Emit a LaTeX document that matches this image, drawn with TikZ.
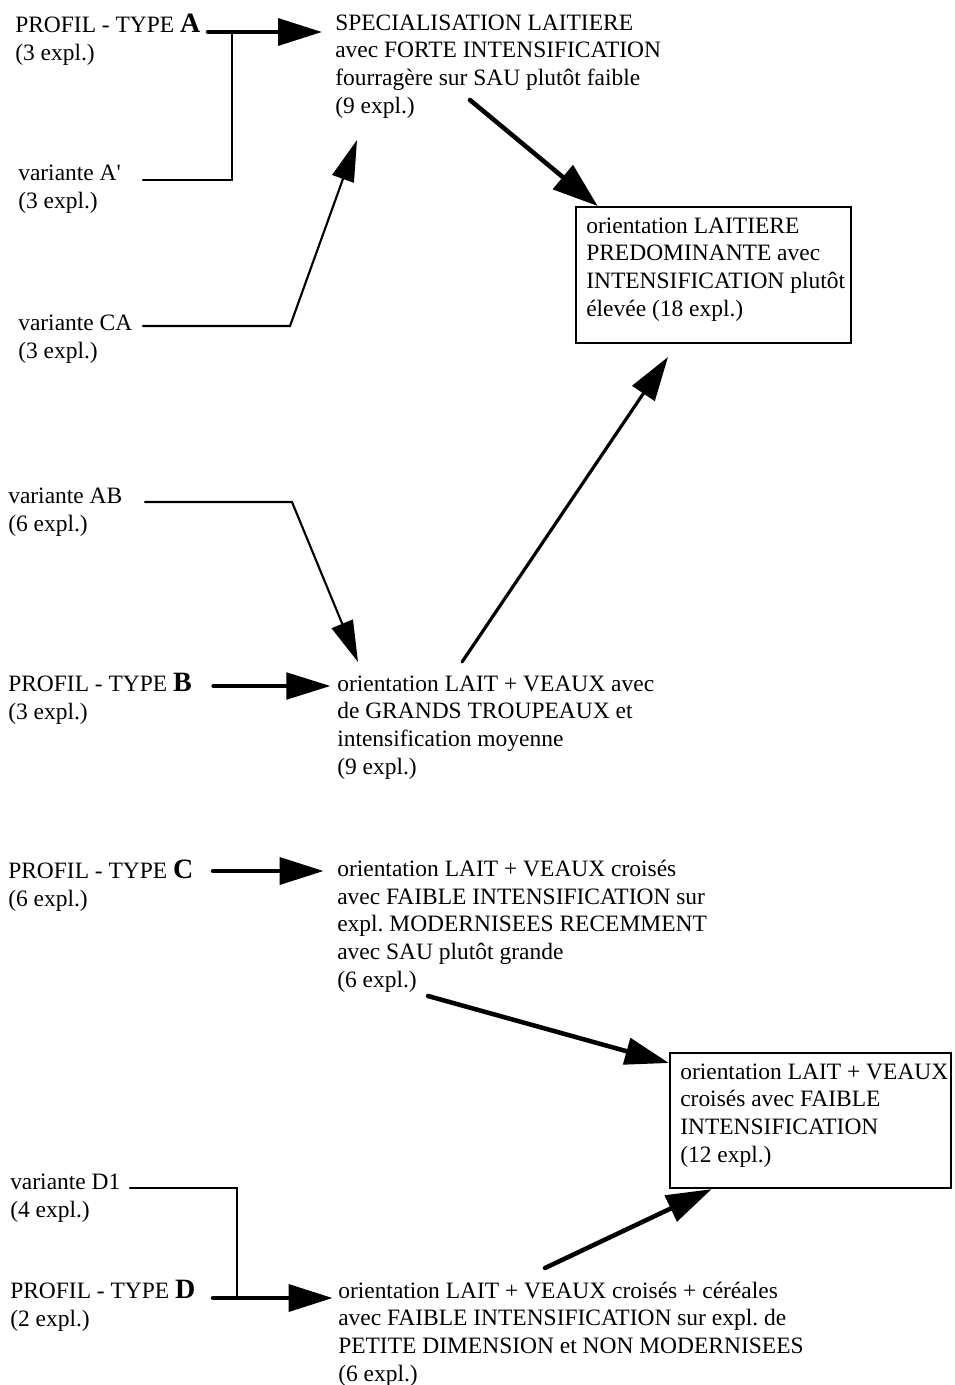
\documentclass[tikz,border=0pt]{standalone}
\usepackage{fontspec}
\setmainfont{Liberation Serif}
\usetikzlibrary{arrows.meta}
\newcommand{\profletter}[1]{{\fontsize{21}{20.7}\selectfont\bfseries #1}}
\frenchspacing

\begin{document}
\begin{tikzpicture}[x=0.75pt,y=-0.75pt,line cap=round,line join=miter,
	>={Triangle[length=33pt,width=20pt]},
	txt/.style={anchor=base west,inner sep=0pt,align=left,font=\fontsize{17.6}{20.7}\selectfont},
	resbox/.style={draw,line width=1.6pt,inner sep=0pt,anchor=north west},
	thinline/.style={line width=1.6pt},
	midline/.style={line width=2.4pt},
	thickline/.style={line width=3.4pt},
	smallhead/.style={>={Triangle[length=31pt,width=17pt]}}]
	\useasboundingbox (0,0) rectangle (954,1385);

	% nodes are placed at the baseline of their last line
	\node [txt] (proA) at (15,60) {PROFIL - TYPE \profletter{A}\\(3 expl.)};
	\node [txt] (varA) at (18,208) {variante A\textquotesingle\\(3 expl.)};
	\node [txt] (varCA) at (18,358) {variante CA\\(3 expl.)};
	\node [txt] (varAB) at (8,531) {variante AB\\(6 expl.)};
	\node [txt] (proB) at (8,719) {PROFIL - TYPE \profletter{B}\\(3 expl.)};
	\node [txt] (proC) at (8,906) {PROFIL - TYPE \profletter{C}\\(6 expl.)};
	\node [txt] (varD) at (10,1217) {variante D1\\(4 expl.)};
	\node [txt] (proD) at (10,1326) {PROFIL - TYPE \profletter{D}\\(2 expl.)};

	\node [txt] (spec) at (335,113) {SPECIALISATION LAITIERE\\avec FORTE INTENSIFICATION\\fourragère sur SAU plutôt faible\\(9 expl.)};
	\node [txt] (lvB) at (337,774) {orientation LAIT + VEAUX avec\\de GRANDS TROUPEAUX et\\intensification moyenne\\(9 expl.)};
	\node [txt] (lvC) at (337,987) {orientation LAIT + VEAUX croisés\\avec FAIBLE INTENSIFICATION sur\\expl. MODERNISEES RECEMMENT\\avec SAU plutôt grande\\(6 expl.)};
	\node [txt] (lvD) at (338,1381) {orientation LAIT + VEAUX croisés + céréales\\avec FAIBLE INTENSIFICATION sur expl. de\\PETITE DIMENSION et NON MODERNISEES\\(6 expl.)};

	\node [resbox,minimum width=206.25pt,minimum height=102pt] (boxL) at (575,206) {};
	\node [txt] (txtL) at (586,316) {orientation LAITIERE\\PREDOMINANTE avec\\INTENSIFICATION plutôt\\élevée (18 expl.)};
	\node [resbox,minimum width=210.75pt,minimum height=101.25pt] (boxC) at (669,1052) {};
	\node [txt] (txtC) at (680,1162) {orientation LAIT + VEAUX\\croisés avec FAIBLE\\INTENSIFICATION\\(12 expl.)};

	\coordinate (aA) at (208,32);
	\coordinate (jA) at (232,32);
	\coordinate (aVA) at (143,180);
	\coordinate (aCA) at (143,326);
	\coordinate (kCA) at (290,326);
	\coordinate (tCA) at (357,140);
	\coordinate (sSpec) at (470,100);
	\coordinate (aAB) at (145,502);
	\coordinate (kAB) at (292,502);
	\coordinate (tAB) at (358,662);
	\coordinate (aB) at (213,686);
	\coordinate (sB) at (462,662);
	\coordinate (tB) at (668,357);
	\coordinate (aC) at (213,871);
	\coordinate (sC) at (428,996);
	\coordinate (tC) at (669,1063);
	\coordinate (aVD) at (130,1188);
	\coordinate (jD) at (237,1298);
	\coordinate (aD) at (213,1298);
	\coordinate (sD) at (545,1268);

	\draw [thickline,->] (aA) -- ([xshift=-9.75pt]spec.west |- aA);
	\draw [thinline] (aVA) -- (jA |- aVA) -- (jA);
	\draw [thinline,smallhead,->] (aCA) -- (kCA) -- (tCA);
	\draw [thickline,->,>={Triangle[length=34pt,width=23pt]}] (sSpec) -- ([xshift=17pt]boxL.north west);

	\draw [thinline,smallhead,->] (aAB) -- (kAB) -- (tAB);
	\draw [midline,->] (aB) -- ([xshift=-5pt]lvB.west |- aB);
	\draw [midline,->] (sB) -- (tB);

	\draw [thickline,->] (aC) -- ([xshift=-10pt]lvC.west |- aC);
	\draw [thickline,->] (sC) -- (tC);

	\draw [thinline] (aVD) -- (jD |- aVD) -- (jD);
	\draw [thickline,->] (aD) -- ([xshift=-4pt]lvD.west |- aD);
	\draw [thickline,->,>={Triangle[length=34pt,width=21pt]}] (sD) -- ([xshift=32pt]boxC.south west);
\end{tikzpicture}
\end{document}
